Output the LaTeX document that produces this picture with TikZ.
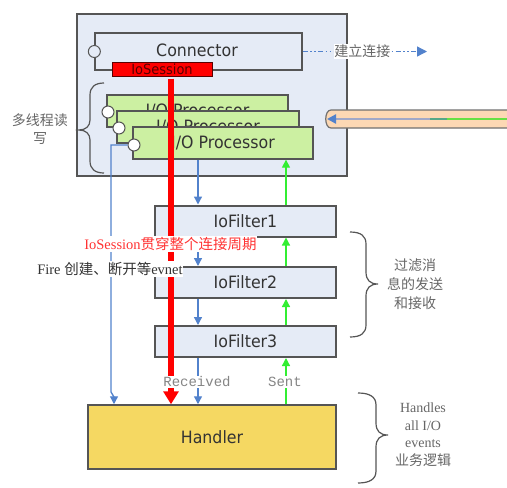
\documentclass[tikz,border=0pt]{standalone}
\usepackage{fontspec}
\setmainfont{Liberation Serif}
\newfontfamily\tah{DejaVu Sans}[FakeStretch=0.93]
\newfontfamily\cjk{Noto Sans CJK SC}
\newfontfamily\mono{Liberation Mono}
\usetikzlibrary{arrows.meta}
\definecolor{bgb}{HTML}{E5EBF6}
\definecolor{boxline}{HTML}{555555}
\definecolor{procg}{HTML}{CCF0A2}
\definecolor{textc}{HTML}{333333}
\definecolor{arrblue}{HTML}{5282CC}
\definecolor{arrgreen}{HTML}{33EE33}
\definecolor{hyellow}{HTML}{F5D862}
\definecolor{notegray}{HTML}{666666}
\definecolor{pipef}{HTML}{FCD8B4}
\definecolor{pipeb}{HTML}{707070}
\definecolor{pipeline}{HTML}{A0A8C8}
\definecolor{pipeteal}{HTML}{55A888}
\definecolor{pipegreen}{HTML}{66E044}
\definecolor{redtxt}{HTML}{FF3333}
\definecolor{sesstxt}{HTML}{5A0000}
\begin{document}
\begin{tikzpicture}[x=1pt,y=-1pt,
  box/.style={draw=boxline, line width=1.3pt, inner sep=0pt, text=textc,
    font={\tah\fontsize{17}{20}\selectfont}},
  filt/.style={box, fill=bgb, line width=2pt, minimum width=181pt, minimum height=31pt},
  proc/.style={box, fill=procg, minimum height=32pt},
  port/.style={circle, draw=boxline, fill=white, line width=1pt, minimum size=12pt, inner sep=0pt},
  bluearr/.style={draw=arrblue, line width=1.3pt, -{Triangle[width=8pt,length=8pt]}},
  greenarr/.style={draw=arrgreen, line width=1.3pt, -{Triangle[width=8pt,length=8pt]}},
  brace/.style={draw=boxline, line width=1.2pt},
  note/.style={text=notegray, align=center, inner sep=0pt},
  whitelbl/.style={fill=white, inner sep=0.8pt}
]
\useasboundingbox (0,0) rectangle (507,488);

% outer box
\node[draw=boxline, fill=bgb, line width=1.5pt, minimum width=270pt, minimum height=162pt, inner sep=0pt] (outer) at (212,95) {};

% connector
\node[box, fill=bgb, minimum width=207pt, minimum height=37pt] (conn) at (198.5,51.5) {};
\node[text=textc, font={\tah\fontsize{17}{20}\selectfont}, inner sep=0pt] (conntxt) at (197,50) {Connector};
\node[port, fill=bgb] (connport) at (conn.west) {};
\node[draw=sesstxt, fill=red, line width=1pt, minimum width=100pt, minimum height=14pt, inner sep=0pt,
  text=sesstxt, font={\tah\fontsize{14}{14}\selectfont}] (sess) at (162,69) {IoSession};

% connect arrow
\coordinate (conntip) at (427,51.5);
\draw[draw=arrblue, line width=1.3pt, dash pattern=on 5pt off 2.5pt on 1.5pt off 2.5pt on 1.5pt off 2.5pt,
  -{Triangle[width=10pt,length=10pt]}] (conn.east) -- (conntip)
  node[pos=0.48, whitelbl, text=notegray, font={\cjk\fontsize{14}{14}\selectfont}] {建立连接};

% processors
\node[proc, minimum width=181pt] (p1) at (197.5,111) {I/O Processor};
\node[port] (p1port) at (108,112) {};
\node[proc, minimum width=182pt] (p2) at (208,127) {I/O Processor};
\node[port] (p2port) at (119,128) {};
\node[proc, minimum width=180pt] (p3) at (223,143) {I/O Processor};
\node[port] (p3port) at (134,145) {};

% left brace and note
\draw[brace] (104,83) .. controls (95,83) and (90,87) .. (90,95) -- (90,120)
  .. controls (90,126) and (86,130) .. (79,130) .. controls (86,130) and (90,134) .. (90,140)
  -- (90,161) .. controls (90,169) and (95,173) .. (104,173);
\node[note, font={\cjk\fontsize{14}{18}\selectfont}] (mt) at (40,129) {多线程读\\写};

% pipe
\draw[draw=pipeb, fill=pipef, line width=1.2pt] (512,110) -- (331,110)
  .. controls (324,110) and (324,128) .. (331,128) -- (512,128);
\coordinate (pr) at (512,119);
\coordinate (pg) at (447,119);
\coordinate (pt) at (430,119);
\coordinate (pl) at (327,119);
\draw[draw=pipegreen, line width=2.5pt] (pr) -- (pg);
\draw[draw=pipeteal, line width=2.5pt] (pg) -- (pt);
\draw[draw=pipeline, line width=2.5pt, -{Triangle[width=9pt,length=9pt,color=arrblue]}] (pt) -- (pl);

% filters and handler
\node[filt] (f1) at (245.5,221) {IoFilter1};
\node[filt] (f2) at (245.5,282.5) {IoFilter2};
\node[filt] (f3) at (245.5,341.5) {IoFilter3};
\node[box, fill=hyellow, line width=1.5pt, minimum width=248pt, minimum height=64pt] (hand) at (212,437) {Handler};

% braces right
\draw[brace] (350,232) .. controls (361,232) and (366,236) .. (366,244) -- (366,272)
  .. controls (366,280) and (370,284) .. (378,284) .. controls (370,284) and (366,288) .. (366,296)
  -- (366,325) .. controls (366,333) and (361,337) .. (350,337);
\node[note, font={\cjk\fontsize{14}{19}\selectfont}] (fn) at (415,284) {过滤消\\息的发送\\和接收};
\draw[brace] (358,393) .. controls (370,393) and (376,397) .. (376,405) -- (376,423)
  .. controls (376,431) and (380,435) .. (388,435) .. controls (380,435) and (376,439) .. (376,447)
  -- (376,471) .. controls (376,479) and (370,483) .. (358,483);
\node[note, font={\fontsize{14}{17.5}\selectfont}] (hn) at (423,434.5) {Handles\\all I/O\\events\\{\cjk 业务逻辑}};

% arrows
\coordinate (bx) at (198,0);
\coordinate (gx) at (286,0);
\coordinate (rx) at (171,0);
\coordinate (lx) at (114,0);
\draw[bluearr] (p3.south -| bx) -- (f1.north -| bx);
\draw[bluearr] (f1.south -| bx) -- (f2.north -| bx);
\draw[bluearr] (f2.south -| bx) -- (f3.north -| bx);
\draw[bluearr] (f3.south -| bx) -- (hand.north -| bx);
\coordinate (lb1) at (111,145);
\coordinate (lb2) at (111,392);
\coordinate (lb3) at (114,397);
\draw[bluearr] (p3port.west) -- (lb1) -- (lb2) -- (lb3) -- (hand.north -| lx);
\draw[greenarr] (hand.north -| gx) -- (f3.south -| gx);
\draw[greenarr] (f3.north -| gx) -- (f2.south -| gx);
\draw[greenarr] (f2.north -| gx) -- (f1.south -| gx);
\draw[greenarr] (f1.north -| gx) -- (p3.south -| gx);

% red session line
\draw[draw=red, line width=6pt, -{Triangle[width=15pt,length=13pt]}, shorten <=2pt] (sess.south -| rx) -- (hand.north -| rx);

% labels
\node[whitelbl, text=redtxt, font={\fontsize{14.5}{15}\selectfont}] (sesslbl) at (170.5,244)
  {IoSession{\cjk 贯穿整个连接周期}};
\node[whitelbl, text=textc, font={\fontsize{14.5}{15}\selectfont}] (firelbl) at (110,269)
  {Fire {\cjk 创建、断开等}evnet};
\node[whitelbl, text=notegray!80, font={\mono\fontsize{14}{14}\selectfont}] (recv) at (197,382) {Received};
\node[whitelbl, text=notegray!80, font={\mono\fontsize{14}{14}\selectfont}] (sent) at (285,382) {Sent};
\end{tikzpicture}
\end{document}
